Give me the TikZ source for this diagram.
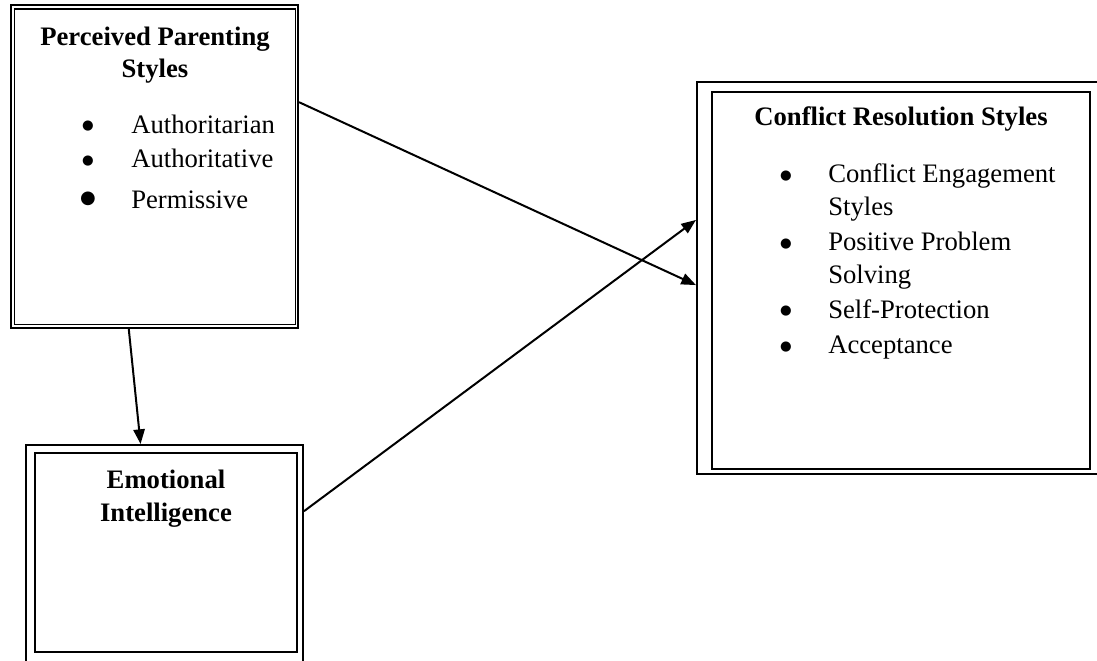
\documentclass[tikz,border=0pt]{standalone}
\usepackage{fontspec}
\setmainfont{Liberation Serif}
\newfontfamily\dotfont{DejaVu Sans}
\usetikzlibrary{arrows.meta,fit}
\begin{document}
\begin{tikzpicture}[x=0.75pt,y=-0.75pt,
  outerbox/.style={draw, line width=1.5pt, inner sep=0pt},
  innerbox/.style={draw, line width=1pt, inner sep=0pt},
  lbl/.style={font=\fontsize{20}{24}\selectfont, inner sep=0pt, anchor=base},
  ttl/.style={lbl, font=\fontsize{20}{24}\selectfont\bfseries},
  itm/.style={lbl, anchor=base west},
  bul/.style={inner sep=0pt, anchor=base, font=\dotfont\fontsize{10}{10}\selectfont, yshift=-3.3*0.75pt},
  bigbul/.style={bul, font=\dotfont\fontsize{13.5}{14}\selectfont, yshift=-0.5pt},
  link/.style={line width=1.5pt, -{Triangle[length=11pt,width=8.5pt]}}
]
\useasboundingbox (0,0) rectangle (1097,661);
\clip (0,0) rectangle (1097,661);
\fill[white] (0,0) rectangle (1097,661);

% Perceived Parenting Styles
\node[outerbox, fit={(11,5) (298,328)}] (pps) {};
\node[innerbox, fit={(14.5,9) (295.5,324.5)}] (ppsin) {};
\node[ttl] (ppst1) at (155,45) {Perceived Parenting};
\node[ttl] (ppst2) at (155,77) {Styles};
\node[bul] (ppsb1) at (88,126) {●};
\node[bul] (ppsb2) at (88,161) {●};
\node[bigbul] (ppsb3) at (88,200) {●};
\node[itm] (ppsi1) at (131,133) {Authoritarian};
\node[itm] (ppsi2) at (131,167) {Authoritative};
\node[itm] (ppsi3) at (131,208) {Permissive};

% Emotional Intelligence
\node[outerbox, fit={(26,445) (303,668)}] (ei) {};
\node[innerbox, fit={(35,453) (297,652)}] (eiin) {};
\node[ttl] (eit1) at (166,488) {Emotional};
\node[ttl] (eit2) at (166,521) {Intelligence};

% Conflict Resolution Styles
\node[outerbox, fit={(697,82) (1100,474)}] (crs) {};
\node[innerbox, fit={(712,92) (1090,469)}] (crsin) {};
\node[ttl] (crst) at (901,125) {Conflict Resolution Styles};
\node[bul] (crsb1) at (786,176) {●};
\node[bul] (crsb2) at (786,244) {●};
\node[bul] (crsb3) at (786,311) {●};
\node[bul] (crsb4) at (786,347) {●};
\node[itm] (crsi1) at (828,182) {Conflict Engagement};
\node[itm] (crsi1b) at (828,215) {Styles};
\node[itm] (crsi2) at (828,250) {Positive Problem};
\node[itm] (crsi2b) at (828,283) {Solving};
\node[itm] (crsi3) at (828,318) {Self-Protection};
\node[itm] (crsi4) at (828,353) {Acceptance};

% connectors
\draw[link] (pps.24.53) -- (crs.182.56);
\draw[link] (ei.18.56) -- (crs.164.43);
\draw[link] (pps.261.37) -- (ei.102.88);
\end{tikzpicture}
\end{document}
